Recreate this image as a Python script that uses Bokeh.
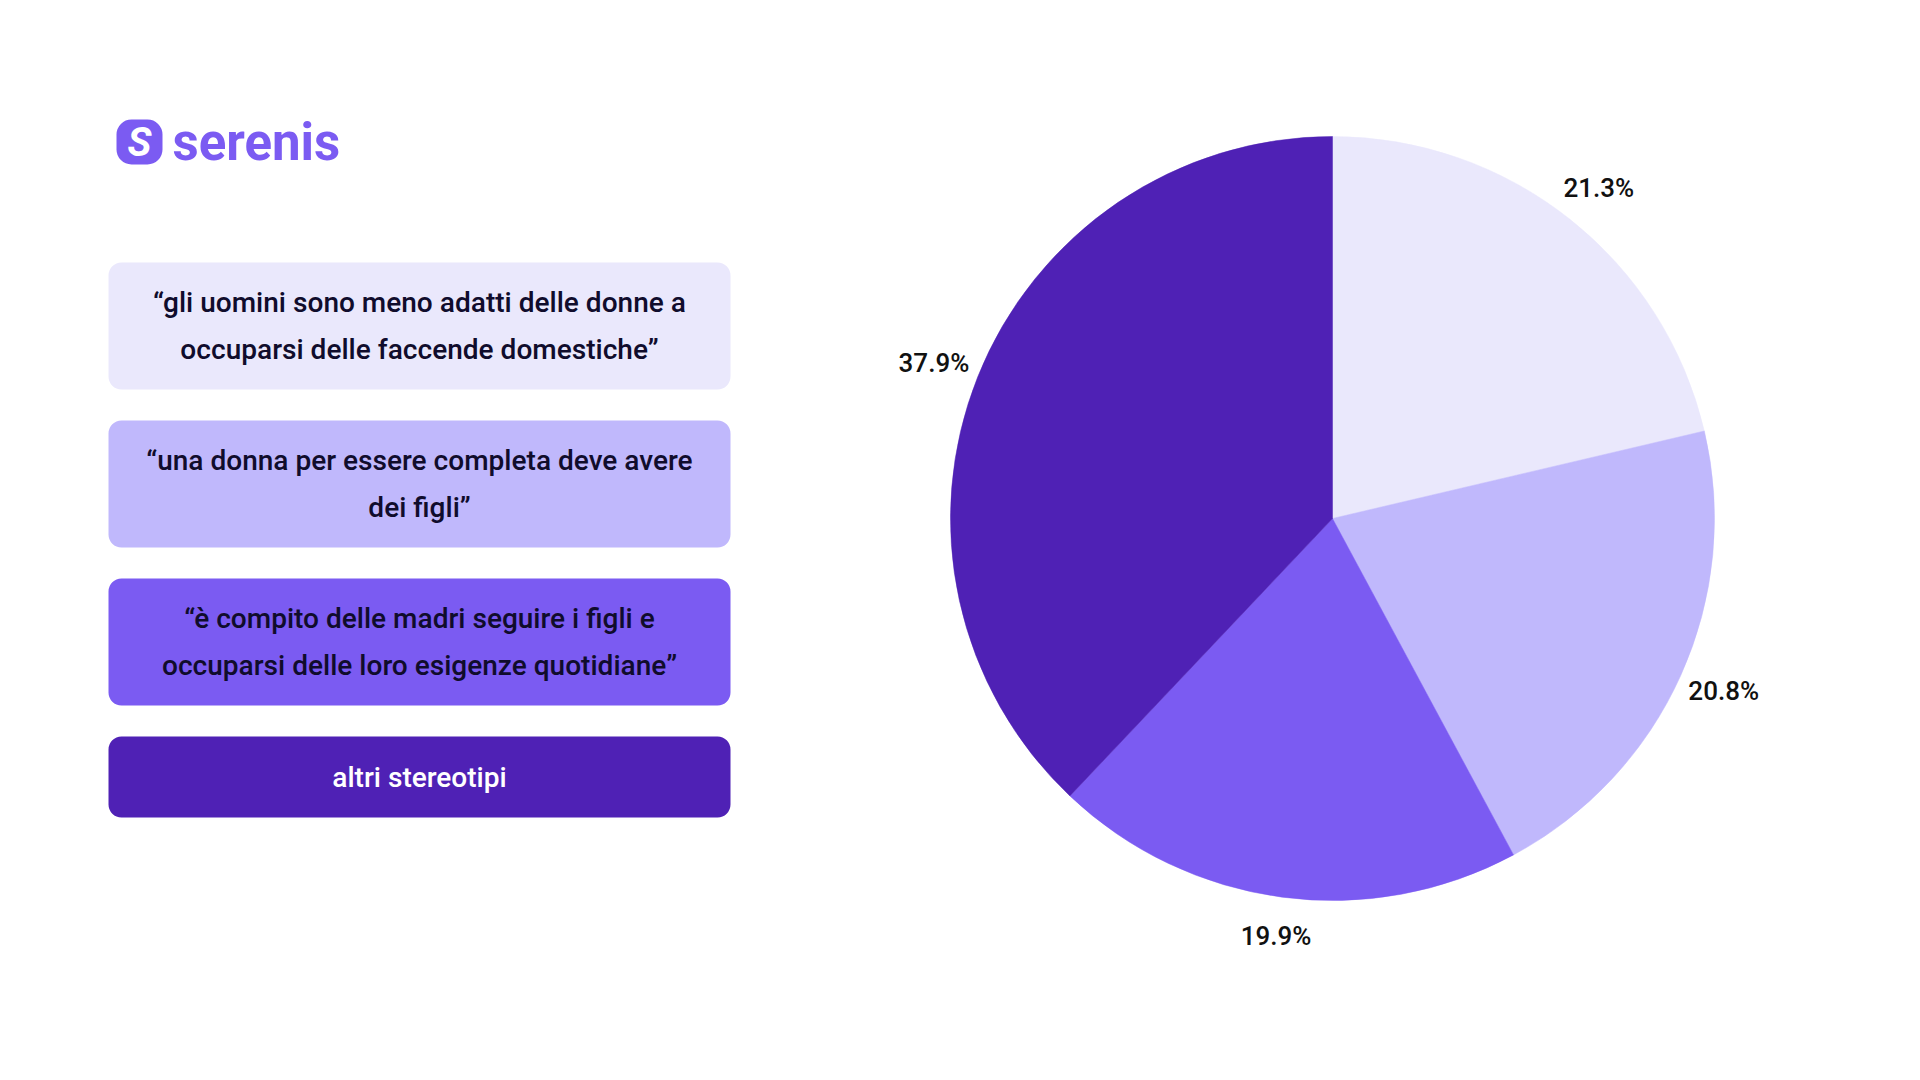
import numpy as np
from bokeh.plotting import figure
from bokeh.models import Range1d, BoxAnnotation, ColumnDataSource
from bokeh.core.properties import value
from bokeh.embed import file_html
from bokeh.resources import INLINE

# ---- data ----
categories = [
    "\u201cgli uomini sono meno adatti delle donne a\noccuparsi delle faccende domestiche\u201d",
    "\u201cuna donna per essere completa deve avere\ndei figli\u201d",
    "\u201c\u00e8 compito delle madri seguire i figli e\noccuparsi delle loro esigenze quotidiane\u201d",
    "altri stereotipi",
]
shares = [21.3, 20.8, 19.9, 37.9]
share_labels = ["21.3%", "20.8%", "19.9%", "37.9%"]
colors = ["#EAE8FC", "#C0B8FC", "#7B5BF2", "#4F21B5"]
text_colors = ["#100C2C", "#100C2C", "#100C2C", "#FFFFFF"]

FONT = "Roboto Medium, Roboto"

W, H = 1904, 1064
p = figure(width=W, height=H, x_range=Range1d(0, 1904), y_range=Range1d(16, 1080),
           output_backend="svg", toolbar_location=None,
           x_axis_type=None, y_axis_type=None, min_border=0)
p.grid.visible = False
p.outline_line_color = None
p.background_fill_color = "white"
p.border_fill_color = "white"


def Y(sy):
    return 1080 - sy


# ---- pie ----
CX, CY, R = 1332, 518, 382
vals = np.array(shares, dtype=float)
fr = vals / vals.sum()
cum = np.concatenate([[0], np.cumsum(fr)])
a_start = np.pi / 2 - 2 * np.pi * cum[:-1]
a_end = np.pi / 2 - 2 * np.pi * cum[1:]
mid = (a_start + a_end) / 2
LRX, LRY = 429, 421
src = ColumnDataSource(dict(
    start=a_end, end=a_start, color=colors,
    lx=CX + LRX * np.cos(mid), ly=Y(CY) + LRY * np.sin(mid), lab=share_labels,
))
p.wedge(x=CX, y=Y(CY), radius=R, start_angle="start", end_angle="end",
        direction="anticlock", fill_color="color", line_color="color",
        line_width=0.5, source=src)
p.text(x="lx", y="ly", text="lab", source=src, text_align="center",
       text_baseline="middle", text_font=value(FONT), text_font_size="26px",
       text_color="#111111")

# ---- legend boxes ----
BX0, BX1 = 108, 730
tops = [262, 420, 578, 736]
bots = [389, 547, 705, 817]
for t, b, c in zip(tops, bots, colors):
    p.add_layout(BoxAnnotation(left=BX0, right=BX1, top=Y(t), bottom=Y(b),
                               fill_color=c, fill_alpha=1.0, line_alpha=0,
                               border_radius=13, level="underlay"))
lsrc = ColumnDataSource(dict(
    x=[(BX0 + BX1) / 2] * 4,
    y=[Y((t + b) / 2) for t, b in zip(tops, bots)],
    t=categories, c=text_colors,
))
p.text(x="x", y="y", text="t", text_color="c", source=lsrc, text_align="center",
       text_baseline="middle", text_font=value(FONT), text_font_size="28px",
       text_line_height=1.45)

# ---- logo ----
p.add_layout(BoxAnnotation(left=116, right=162, top=Y(119), bottom=Y(164),
                           fill_color="#7B5BF2", fill_alpha=1.0, line_alpha=0,
                           border_radius=15, level="underlay"))
p.text(x=[139], y=[Y(142)], text=["S"], text_align="center", text_baseline="middle",
       text_font=value("Roboto"), text_font_style="bold italic", text_font_size="40px",
       text_color="white")
p.text(x=[172], y=[Y(142)], text=["serenis"], text_align="left", text_baseline="middle",
       text_font=value("Roboto"), text_font_style="bold", text_font_size="51px",
       text_color="#7B5BF2")

open("out.html", "w").write(file_html(p, INLINE))
